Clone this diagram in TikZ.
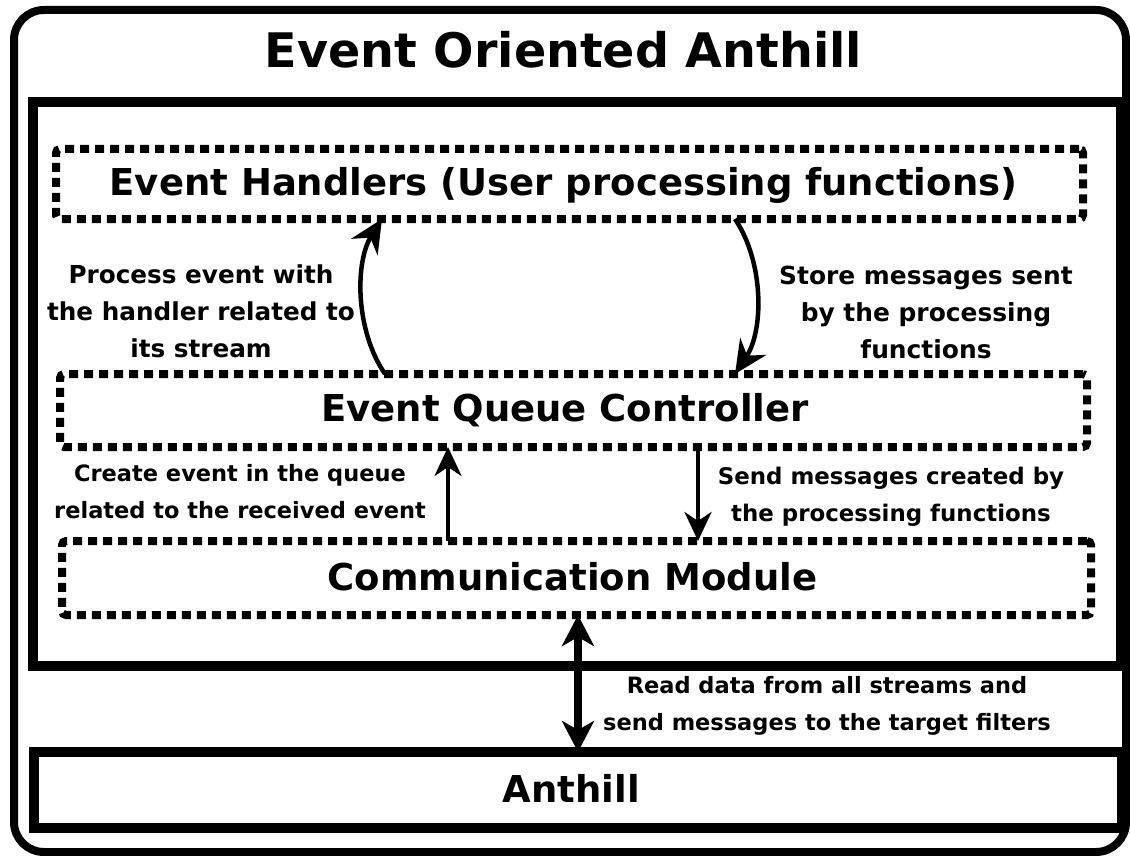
\documentclass[tikz,border=0pt]{standalone}
\usepackage{fontspec}
\setmainfont{DejaVu Sans}
\usetikzlibrary{arrows.meta}
\begin{document}
\begin{tikzpicture}[x=1pt,y=-1pt,
  frame/.style={draw, line width=#1, inner sep=0pt, outer sep=0pt},
  dotbox/.style={draw, line width=8pt, dash pattern=on 9pt off 6pt, rounded corners=4pt, inner sep=0pt, outer sep=0pt},
  head/.style={font=\bfseries\fontsize{37}{40}\selectfont, anchor=base, inner sep=0pt},
  lab/.style={font=\bfseries\fontsize{#1}{37}\selectfont, align=center, anchor=base, inner sep=0pt},
  arr/.style={line width=4pt, -{Stealth[length=29pt, width=27pt, inset=9pt]}},
  carr/.style={line width=4.5pt, -{Stealth[length=33pt, width=31pt, inset=11pt]}},
  dbl/.style={line width=8pt, {Stealth[length=31pt, width=32pt, inset=9pt]}-{Stealth[length=31pt, width=32pt, inset=9pt]}}
]
\useasboundingbox (0,0) rectangle (1130,856);
% outer frame
\node[frame=8pt, rounded corners=30pt, minimum width=1112pt, minimum height=842pt] (outer) at (570,431) {};
\node[font=\bfseries\fontsize{47.6}{50}\selectfont, anchor=base, inner sep=0pt] (title) at (563.5,68) {Event Oriented Anthill};
% inner frame
\node[frame=10.5pt, minimum width=1088pt, minimum height=564pt] (inner) at (577,384) {};
% dotted boxes
\node[dotbox, minimum width=1027pt, minimum height=70pt] (eh) at (569.5,184) {};
\node[dotbox, minimum width=1027pt, minimum height=73pt] (eqc) at (573.5,410.5) {};
\node[dotbox, minimum width=1029pt, minimum height=74pt] (comm) at (576.5,578) {};
\node[frame=10pt, minimum width=1088pt, minimum height=76pt] (ant) at (578,790) {};
% headings
\node[head] (ehT) at (563.5,195) {Event Handlers (User processing functions)};
\node[head] (eqcT) at (565,421) {Event Queue Controller};
\node[head] (commT) at (572.5,590) {Communication Module};
\node[head] (antT) at (571.5,802) {Anthill};
% labels (anchor = baseline of the last line)
\node[lab=24.7] (l1) at (201,357) {Process event with\\the handler related to\\its stream};
\node[lab=24.9] (l2) at (926,358) {Store messages sent\\by the processing\\functions};
\node[lab=22.5] (l3) at (240,518.3) {Create event in the queue\\related to the received event};
\node[lab=22.9] (l4) at (891,521.7) {Send messages created by\\the processing functions};
\node[lab=22.5] (l5) at (827,730) {Read data from all streams and\\send messages to the target filters};
% connectors
\draw[carr] ([xshift=325pt]eqc.north west) .. controls +(-30,-44) and +(-27,43) .. ([xshift=326pt]eh.south west);
\draw[carr] ([xshift=679pt]eh.south west) .. controls +(29,43) and +(29,-44) .. ([xshift=675pt]eqc.north west);
\draw[arr] ([xshift=386pt]comm.north west) -- ([xshift=388pt]eqc.south west);
\draw[arr] ([xshift=638pt]eqc.south west) -- ([xshift=636pt]comm.north west);
\draw[dbl] ([xshift=516pt]comm.south west) -- ([xshift=544pt]ant.north west);
\end{tikzpicture}
\end{document}
